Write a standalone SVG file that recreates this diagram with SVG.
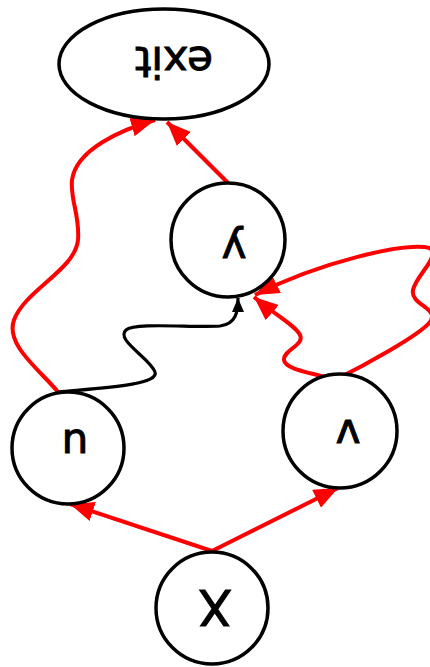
<svg xmlns="http://www.w3.org/2000/svg" width="430" height="667" viewBox="0 0 430 667">
<style>
.node{fill:#fff;stroke:#000;stroke-width:3.5}
.lbl{font-family:"DejaVu Sans",sans-serif;font-size:42px;fill:#000;stroke:#000;stroke-width:1;text-anchor:middle}
.red{fill:none;stroke:#ff0000;stroke-width:4}
.blk{fill:none;stroke:#000;stroke-width:3.2}
</style>
<defs>
<marker id="ar" markerUnits="userSpaceOnUse" viewBox="0 0 24 20" refX="24" refY="10" markerWidth="24" markerHeight="20" orient="auto"><path d="M0,0 L24,10 L0,20 Z" fill="#ff0000"/></marker>
<marker id="ab" markerUnits="userSpaceOnUse" viewBox="0 0 14 12" refX="14" refY="6" markerWidth="14" markerHeight="12" orient="auto"><path d="M0,0 L14,6 L0,12 Z" fill="#000"/></marker>
</defs>
<g id="connectors">
<path class="red" d="M212,551 L70,504" marker-end="url(#ar)"/>
<path class="red" d="M212,551 L338,488" marker-end="url(#ar)"/>
<path class="red" d="M58,392 C40,370 5,345 14,320 C25,290 75,270 78,240 C80,215 70,200 72,180 C76,150 120,130 155,120" marker-end="url(#ar)"/>
<path class="red" d="M228,183 L167,122" marker-end="url(#ar)"/>
<path class="blk" d="M58,392 C100,388 160,385 155,372 C150,358 115,340 126,330 C135,322 195,328 220,326 C236,324 238,312 238,298" marker-end="url(#ab)"/>
<path class="red" d="M335,380 C315,373 285,370 284,360 C283,350 305,345 300,335 C295,325 275,315 254,297" marker-end="url(#ar)"/>
<path class="red" d="M335,380 C365,365 420,335 430,322 C440,308 410,305 413,290 C416,275 440,258 430,248 C405,242 320,262 255,295" marker-end="url(#ar)"/>
</g>
<g id="exit"><ellipse class="node" cx="164" cy="64" rx="105" ry="55"/><text class="lbl" transform="translate(174,47) rotate(180)">exit</text></g>
<g id="y"><circle class="node" cx="228" cy="240" r="57"/><text class="lbl" transform="translate(234,235) rotate(180)">y</text></g>
<g id="u"><circle class="node" cx="68" cy="448" r="56"/><text class="lbl" transform="translate(75,430) rotate(180)">u</text></g>
<g id="v"><circle class="node" cx="340" cy="431" r="57"/><text class="lbl" transform="translate(348,420) rotate(180)">v</text></g>
<g id="X"><circle class="node" cx="212" cy="608" r="56"/><text class="lbl" style="font-size:50px" transform="translate(215,590) rotate(180)">X</text></g>
</svg>
